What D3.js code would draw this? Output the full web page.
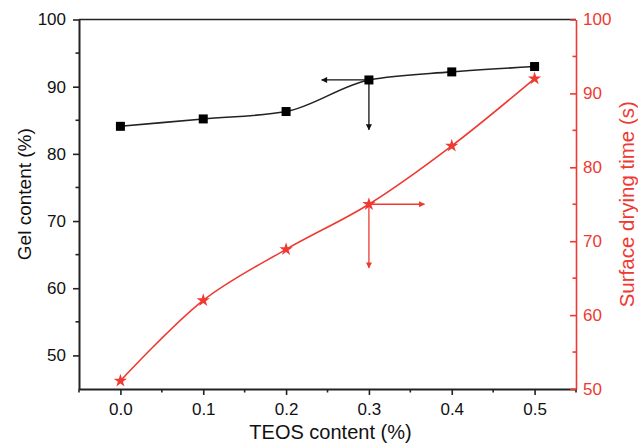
<!DOCTYPE html>
<html>
<head>
<meta charset="utf-8">
<script src="https://cdn.jsdelivr.net/npm/d3@7"></script>
<style>
  body { margin: 0; background: #fff; }
  svg { font-family: 'Liberation Sans', Arial, sans-serif; }
  .axis .domain { stroke-width: 2px; }
  .axis .tick line { stroke-width: 1.6px; }
</style>
</head>
<body>
<div id="chart"></div>
<script>
const WIDTH = 638
const HEIGHT = 446
const MARGINS = { top: 19.5, right: 62, bottom: 57, left: 79 }

const RED = '#ee3a32'

// data
const teos = [0.0, 0.1, 0.2, 0.3, 0.4, 0.5]
const gel_content = [84.1, 85.2, 86.3, 91.0, 92.2, 93.0]
const drying_time = [51.1, 62.0, 68.9, 75.0, 82.9, 92.0]

const x_ticks = [0.0, 0.1, 0.2, 0.3, 0.4, 0.5]
const gel_ticks = [50, 60, 70, 80, 90, 100]
const time_ticks = [50, 60, 70, 80, 90, 100]

// arrow annotations at x = 0.3, pointing to the matching axis
const gel_arrow = { x: 0.3, y: 91.0, toX: 0.243, toY: 83.6 }
const time_arrow = { x: 0.3, y: 75.0, toX: 0.367, toY: 66.4 }

let w = WIDTH - MARGINS.left - MARGINS.right
let h = HEIGHT - MARGINS.top - MARGINS.bottom

let svg = d3.select('#chart')
  .append('svg')
    .attr('width', WIDTH)
    .attr('height', HEIGHT)

let defs = svg.append('defs')
function marker(id, color) {
  defs.append('marker')
    .attr('id', id)
    .attr('viewBox', '0 0 10 10')
    .attr('refX', 9).attr('refY', 5)
    .attr('markerWidth', 9).attr('markerHeight', 6)
    .attr('markerUnits', 'userSpaceOnUse')
    .attr('orient', 'auto')
    .append('path')
      .attr('d', 'M0,0L10,5L0,10Z')
      .attr('fill', color)
}
marker('arrow-black', '#111')
marker('arrow-red', RED)

let g = svg.append('g')
  .attr('transform', 'translate(' + [MARGINS.left, MARGINS.top] + ')')

let x = d3.scaleLinear().domain([-0.05, 0.55]).range([0, w])
let y_gel = d3.scaleLinear().domain([45, 100]).range([h, 0])
let y_time = d3.scaleLinear().domain([50, 100]).range([h, 0])

// top frame line
g.append('line')
  .attr('x1', 0).attr('x2', w)
  .attr('y1', 0).attr('y2', 0)
  .attr('stroke', '#222')
  .attr('stroke-width', 1.6)

// minor ticks

let minor = g.append('g').attr('class', 'minor')

minor.selectAll('.mx')
  .data(d3.range(-0.05, 0.56, 0.1))
  .enter().append('line')
    .attr('x1', (d) => x(d)).attr('x2', (d) => x(d))
    .attr('y1', h).attr('y2', h + 3.5)
    .attr('stroke', '#222').attr('stroke-width', 1.6)

minor.selectAll('.mg')
  .data(d3.range(55, 100, 10))
  .enter().append('line')
    .attr('x1', 0).attr('x2', -3.5)
    .attr('y1', (d) => y_gel(d)).attr('y2', (d) => y_gel(d))
    .attr('stroke', '#222').attr('stroke-width', 1.6)

minor.selectAll('.mt')
  .data(d3.range(55, 100, 10))
  .enter().append('line')
    .attr('x1', w).attr('x2', w - 3.5)
    .attr('y1', (d) => y_time(d)).attr('y2', (d) => y_time(d))
    .attr('stroke', RED).attr('stroke-width', 1.6)

// axes

let x_axis = g.append('g')
  .attr('class', 'axis')
  .attr('transform', 'translate(0,' + h + ')')
  .call(d3.axisBottom(x).tickValues(x_ticks).tickFormat(d3.format('.1f')).tickSizeInner(6).tickSizeOuter(0).tickPadding(8))
x_axis.select('.domain').attr('stroke', '#222')
x_axis.selectAll('.tick line').attr('stroke', '#222')
x_axis.selectAll('text').attr('font-size', 17).attr('fill', '#111')

let gel_axis = g.append('g')
  .attr('class', 'axis')
  .call(d3.axisLeft(y_gel).tickValues(gel_ticks).tickSizeInner(6).tickSizeOuter(0).tickPadding(7))
gel_axis.select('.domain').attr('stroke', '#222')
gel_axis.selectAll('.tick line').attr('stroke', '#222')
gel_axis.selectAll('text').attr('font-size', 17).attr('fill', '#111')

let time_axis = g.append('g')
  .attr('class', 'axis')
  .attr('transform', 'translate(' + w + ',0)')
  .call(d3.axisRight(y_time).tickValues(time_ticks).tickSizeInner(-6).tickSizeOuter(0).tickPadding(7))
time_axis.select('.domain').attr('stroke', RED).style('stroke-width', '1.6px')
time_axis.selectAll('.tick line').attr('stroke', RED)
time_axis.selectAll('text').attr('font-size', 17).attr('fill', RED)

// axis titles

g.append('text')
  .attr('x', w / 2 + 3)
  .attr('y', h + 50)
  .attr('text-anchor', 'middle')
  .attr('font-size', 20)
  .attr('fill', '#111')
  .text('TEOS content (%)')

g.append('text')
  .attr('transform', 'translate(' + [-MARGINS.left + 31, y_gel(74)] + ') rotate(-90)')
  .attr('text-anchor', 'middle')
  .attr('font-size', 19)
  .attr('fill', '#111')
  .text('Gel content (%)')

g.append('text')
  .attr('transform', 'translate(' + [w + 58, y_time(75)] + ') rotate(-90)')
  .attr('text-anchor', 'middle')
  .attr('font-size', 20.5)
  .attr('fill', RED)
  .text('Surface drying time (s)')

// series

let gel_pts = teos.map((t, i) => [t, gel_content[i]])
let time_pts = teos.map((t, i) => [t, drying_time[i]])

g.append('path')
  .datum(gel_pts)
  .attr('fill', 'none')
  .attr('stroke', '#222')
  .attr('stroke-width', 1.6)
  .attr('d', d3.line().x((d) => x(d[0])).y((d) => y_gel(d[1])).curve(d3.curveMonotoneX))

g.append('path')
  .datum(time_pts)
  .attr('fill', 'none')
  .attr('stroke', RED)
  .attr('stroke-width', 1.6)
  .attr('d', d3.line().x((d) => x(d[0])).y((d) => y_time(d[1])).curve(d3.curveCatmullRom))

// arrows

function arrows(a, y, color, id) {
  g.append('line')
    .attr('x1', x(a.x)).attr('y1', y(a.y))
    .attr('x2', x(a.toX)).attr('y2', y(a.y))
    .attr('stroke', color).attr('stroke-width', 1.3)
    .attr('marker-end', 'url(#' + id + ')')
  g.append('line')
    .attr('x1', x(a.x)).attr('y1', y(a.y))
    .attr('x2', x(a.x)).attr('y2', y(a.toY))
    .attr('stroke', color).attr('stroke-width', 1.3)
    .attr('marker-end', 'url(#' + id + ')')
}
arrows(gel_arrow, y_gel, '#111', 'arrow-black')
arrows(time_arrow, y_time, RED, 'arrow-red')

// markers

g.selectAll('.sq')
  .data(gel_pts)
  .enter().append('rect')
    .attr('x', (d) => x(d[0]) - 4.5)
    .attr('y', (d) => y_gel(d[1]) - 4.5)
    .attr('width', 9).attr('height', 9)
    .attr('fill', '#000')

g.selectAll('.star')
  .data(time_pts)
  .enter().append('path')
    .attr('transform', (d) => 'translate(' + [x(d[0]), y_time(d[1])] + ')')
    .attr('d', d3.symbol().type(d3.symbolStar).size(55))
    .attr('fill', RED)
</script>
</body>
</html>
